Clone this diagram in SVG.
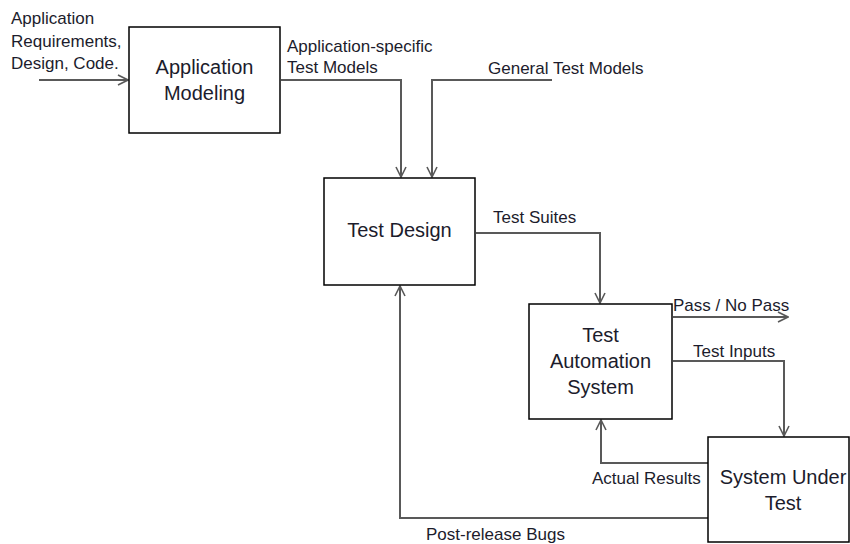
<svg xmlns="http://www.w3.org/2000/svg" width="850" height="544" viewBox="0 0 850 544">
  <defs>
    <marker id="arrow" viewBox="0 0 12 12" refX="11" refY="6" markerWidth="12" markerHeight="12" markerUnits="userSpaceOnUse" orient="auto">
      <polyline points="1,1 11,6 1,11" fill="none" stroke="#595959" stroke-width="1.6"/>
    </marker>
    <style>
      .box { fill: #ffffff; stroke: #000000; stroke-width: 1.5; }
      .conn { fill: none; stroke: #595959; stroke-width: 2; marker-end: url(#arrow); }
      .big { font-family: "Liberation Sans", Arial, sans-serif; font-size: 20px; fill: #1c1c2c; text-anchor: middle; }
      .lbl { font-family: "Liberation Sans", Arial, sans-serif; font-size: 17px; fill: #1c1c2c; }
    </style>
  </defs>
  <rect width="850" height="544" fill="#ffffff"/>

  <!-- connectors -->
  <g id="connectors">
    <path class="conn" d="M39,80 H128"/>
    <path class="conn" d="M281,80 H401 V177"/>
    <path class="conn" d="M552,80 H432 V177"/>
    <path class="conn" d="M476,233 H600 V303"/>
    <path class="conn" d="M673,317 H788"/>
    <path class="conn" d="M673,361 H784 V436"/>
    <path class="conn" d="M708,463 H601 V420"/>
    <path class="conn" d="M708,518 H400 V286"/>
  </g>

  <!-- connector labels -->
  <g id="labels">
    <text class="lbl" x="11" y="24">Application</text>
    <text class="lbl" x="11" y="47">Requirements,</text>
    <text class="lbl" x="11" y="69">Design, Code.</text>
    <text class="lbl" x="287" y="52">Application-specific</text>
    <text class="lbl" x="287" y="73">Test Models</text>
    <text class="lbl" x="488" y="74">General Test Models</text>
    <text class="lbl" x="493" y="223">Test Suites</text>
    <text class="lbl" x="673" y="311">Pass / No Pass</text>
    <text class="lbl" x="693" y="357">Test Inputs</text>
    <text class="lbl" x="592" y="484">Actual Results</text>
    <text class="lbl" x="426" y="540">Post-release Bugs</text>
  </g>

  <g id="application-modeling">
    <rect class="box" x="129" y="27" width="151" height="106"/>
    <text class="big" x="204.5" y="74">Application</text>
    <text class="big" x="204.5" y="100">Modeling</text>
  </g>

  <g id="test-design">
    <rect class="box" x="324" y="178" width="151" height="107"/>
    <text class="big" x="399.5" y="237">Test Design</text>
  </g>

  <g id="test-automation-system">
    <rect class="box" x="529" y="304" width="143" height="115"/>
    <text class="big" x="600.5" y="342">Test</text>
    <text class="big" x="600.5" y="368">Automation</text>
    <text class="big" x="600.5" y="394">System</text>
  </g>

  <g id="system-under-test">
    <rect class="box" x="708" y="437" width="141" height="105"/>
    <text class="big" x="783" y="484">System Under</text>
    <text class="big" x="783" y="510">Test</text>
  </g>
</svg>
